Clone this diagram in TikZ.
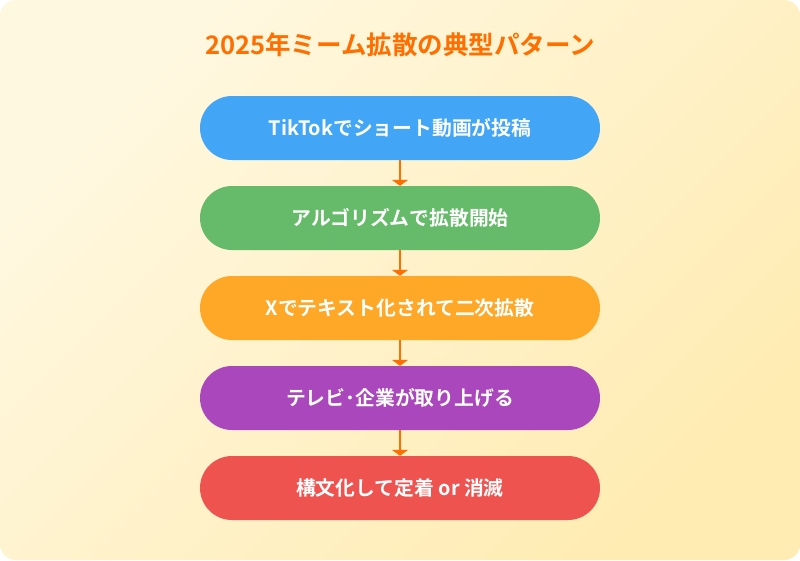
\documentclass[tikz,border=0pt]{standalone}
\usepackage{fontspec}
\setmainfont{Noto Sans CJK JP}[BoldFont={Noto Sans CJK JP Bold}]
\usetikzlibrary{arrows.meta}
\definecolor{bgA}{HTML}{FFF8E1}
\definecolor{bgB}{HTML}{FFECB3}
\definecolor{ttl}{HTML}{FF6F00}
\definecolor{arr}{HTML}{FF6F00}
\definecolor{cblue}{HTML}{42A5F5}
\definecolor{cgreen}{HTML}{66BB6A}
\definecolor{corange}{HTML}{FFA726}
\definecolor{cpurple}{HTML}{AB47BC}
\definecolor{cred}{HTML}{EF5350}
\tikzset{
  pill/.style={rounded corners=32pt, minimum width=400pt, minimum height=64pt,
    inner sep=0pt, text=white, font=\fontsize{19.8}{23}\selectfont\bfseries},
  flow/.style={draw=arr, line width=2.5pt, -{Triangle[width=16pt,length=6pt]}}
}
\begin{document}
\begin{tikzpicture}[x=1pt,y=-1pt]
\useasboundingbox (0,0) rectangle (800,560);
\shade[rounded corners=16pt, left color=bgA, right color=bgB, shading angle=45] (0,0) rectangle (800,560);
\node[text=ttl, font=\fontsize{25.5}{29}\selectfont\bfseries] (title) at (400,45) {2025年ミーム拡散の典型パターン};
\node[pill, fill=cblue] (s1) at (400,128) {TikTokでショート動画が投稿};
\node[pill, fill=cgreen] (s2) at (400,218) {アルゴリズムで拡散開始};
\node[pill, fill=corange] (s3) at (400,308) {Xでテキスト化されて二次拡散};
\node[pill, fill=cpurple] (s4) at (400,398) {テレビ･企業が取り上げる};
\node[pill, fill=cred] (s5) at (400,488) {構文化して定着 or 消滅};
\draw[flow] (s1) -- (s2);
\draw[flow] (s2) -- (s3);
\draw[flow] (s3) -- (s4);
\draw[flow] (s4) -- (s5);
\end{tikzpicture}
\end{document}
